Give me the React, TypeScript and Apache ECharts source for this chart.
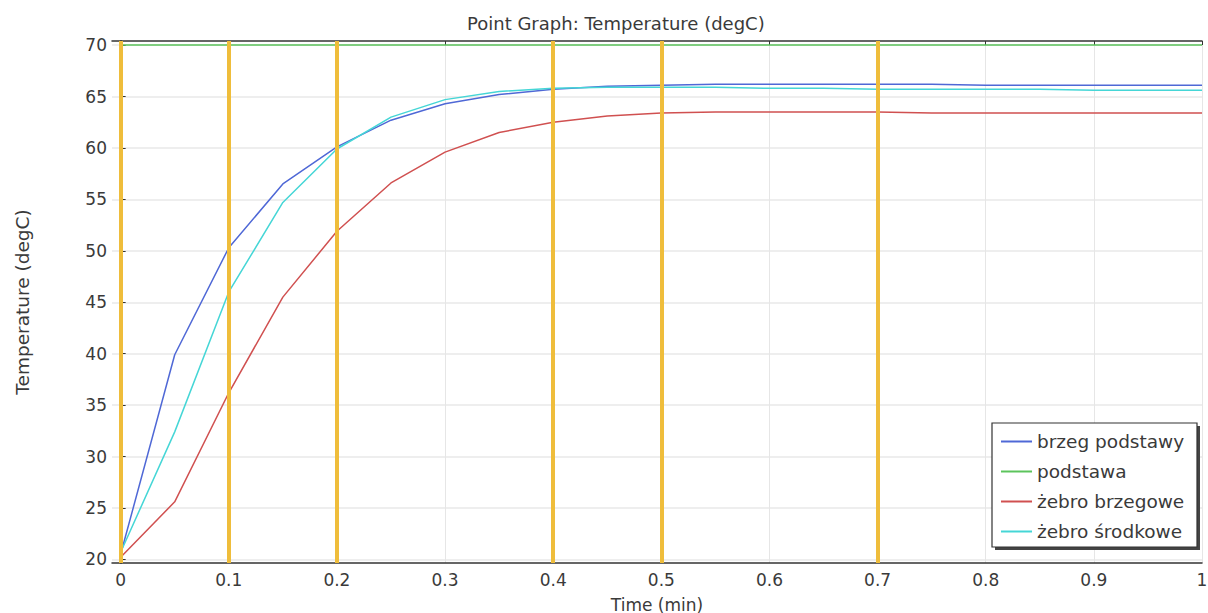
import React, { useEffect, useRef } from "react";
import * as echarts from "echarts";

const timeMin = [0, 0.05, 0.1, 0.15, 0.2, 0.25, 0.3, 0.35, 0.4, 0.45, 0.5, 0.55, 0.6, 0.65, 0.7, 0.75, 0.8, 0.85, 0.9, 0.95, 1];
const brzegPodstawy = [20.5, 39.9, 50.3, 56.5, 60.1, 62.7, 64.3, 65.2, 65.7, 66.0, 66.1, 66.2, 66.2, 66.2, 66.2, 66.2, 66.1, 66.1, 66.1, 66.1, 66.1];
const podstawa = [70, 70, 70, 70, 70, 70, 70, 70, 70, 70, 70, 70, 70, 70, 70, 70, 70, 70, 70, 70, 70];
const zebroBrzegowe = [20.2, 25.6, 36.2, 45.5, 51.9, 56.6, 59.6, 61.5, 62.5, 63.1, 63.4, 63.5, 63.5, 63.5, 63.5, 63.4, 63.4, 63.4, 63.4, 63.4, 63.4];
const zebroSrodkowe = [20.7, 32.4, 46.0, 54.7, 59.9, 63.0, 64.7, 65.5, 65.8, 65.9, 65.9, 65.9, 65.8, 65.8, 65.7, 65.7, 65.7, 65.7, 65.6, 65.6, 65.6];
const markerTimes = [0, 0.1, 0.2, 0.4, 0.5, 0.7];
const xTicks = [0, 0.1, 0.2, 0.3, 0.4, 0.5, 0.6, 0.7, 0.8, 0.9, 1];
const yTicks = [20, 25, 30, 35, 40, 45, 50, 55, 60, 65, 70];
const seriesNames = ["brzeg podstawy", "podstawa", "żebro brzegowe", "żebro środkowe"];
const seriesColors = ["#4f68d6", "#5cc45c", "#d05050", "#45d6d6"];

const FONT = "DejaVu Sans";
const TXT = "#3a3a3a";

export default function App() {
  const ref = useRef<HTMLDivElement>(null);
  useEffect(() => {
    if (!ref.current) return;
    const chart = echarts.init(ref.current, undefined, { renderer: "svg" });
    const datasets = [brzegPodstawy, podstawa, zebroBrzegowe, zebroSrodkowe];
    const xFmt = (v: number) => (v === 0 ? "0" : v === 1 ? "1" : v.toFixed(1));
    const series: any[] = datasets.map((vals, i) => ({
      name: seriesNames[i],
      type: "line",
      data: timeMin.map((t, j) => [t, vals[j]]),
      showSymbol: false,
      symbol: "none",
      lineStyle: { color: seriesColors[i], width: 1.5 },
      itemStyle: { color: seriesColors[i] },
      z: 2,
    }));
    series[1].markLine = {
      silent: true,
      symbol: ["none", "none"],
      label: { show: false },
      lineStyle: { color: "#efbd3b", width: 4, type: "solid" },
      data: markerTimes.map((t) => ({ xAxis: t })),
      z: 3,
    };
    const axisLine = { show: true, lineStyle: { color: "#333", width: 1.5 } };
    const option: any = {
      animation: false,
      textStyle: { fontFamily: FONT },
      title: {
        text: "Point Graph: Temperature (degC)",
        left: 462,
        top: 9,
        textStyle: { fontFamily: FONT, fontSize: 18, fontWeight: "normal", color: TXT },
      },
      grid: { left: 112, right: 6, top: 41, bottom: 50, containLabel: false, outerBoundsMode: "none" },
      xAxis: [
        {
          type: "value",
          min: -0.008,
          max: 1,
          position: "bottom",
          axisLine,
          axisTick: { show: false, customValues: xTicks },
          axisLabel: { customValues: xTicks, formatter: xFmt, fontSize: 17, color: TXT, margin: 8, fontFamily: FONT },
          splitLine: { show: true, lineStyle: { color: "#e6e6e6", width: 1 } },
          name: "Time (min)",
          nameLocation: "middle",
          nameGap: 33,
          nameTextStyle: { fontFamily: FONT, fontSize: 17, color: TXT },
        },
        {
          type: "value",
          min: -0.008,
          max: 1,
          position: "top",
          axisLine,
          axisTick: { show: true, inside: true, length: 4, customValues: xTicks, lineStyle: { color: "#333" } },
          axisLabel: { show: false },
          splitLine: { show: false },
        },
      ],
      yAxis: [
        {
          type: "value",
          min: 19.65,
          max: 70.4,
          position: "left",
          axisLine,
          axisTick: { show: false, customValues: yTicks },
          axisLabel: { customValues: yTicks, fontSize: 17, color: TXT, margin: 5, fontFamily: FONT },
          splitLine: { show: true, lineStyle: { color: "#e8e8e8", width: 1.5 } },
          name: "Temperature (degC)",
          nameLocation: "middle",
          nameGap: 80,
          nameTextStyle: { fontFamily: FONT, fontSize: 18.5, color: TXT },
        },
        {
          type: "value",
          min: 19.65,
          max: 70.4,
          position: "right",
          axisLine,
          axisTick: { show: true, inside: false, length: 5, customValues: yTicks, lineStyle: { color: "#333" } },
          axisLabel: { show: false },
          splitLine: { show: false },
        },
      ],
      legend: {
        data: seriesNames,
        orient: "vertical",
        left: 1001,
        top: 431,
        padding: 0,
        itemGap: 9,
        itemWidth: 31,
        itemHeight: 2,
        icon: "rect",
        textStyle: { fontFamily: FONT, fontSize: 18.5, color: TXT, lineHeight: 21 },
        z: 10,
      },
      graphic: [
        {
          type: "rect",
          z: 8,
          shape: { x: 995, y: 426, width: 205, height: 124 },
          style: { fill: "#444", stroke: "none" },
        },
        {
          type: "rect",
          z: 9,
          shape: { x: 992, y: 423, width: 205, height: 124 },
          style: { fill: "#fff", stroke: "#333", lineWidth: 1.2 },
        },
      ],
      series,
    };
    chart.setOption(option);
    return () => chart.dispose();
  }, []);
  return <div ref={ref} style={{ position: "fixed", left: 0, top: 0, width: 1208, height: 613, background: "#fff" }} />;
}
